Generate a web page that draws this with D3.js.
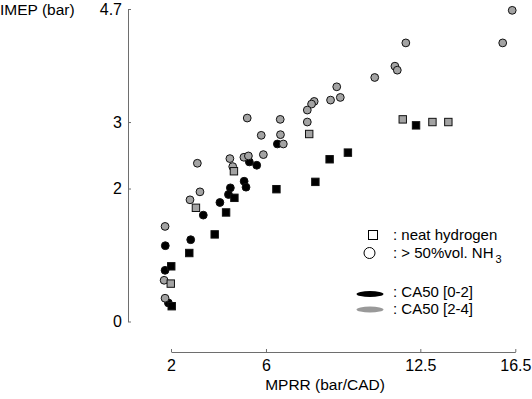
<!DOCTYPE html>
<html>
<head>
<meta charset="utf-8">
<script src="https://cdn.jsdelivr.net/npm/d3@7"></script>
<style>
  body { margin: 0; background: #fff; }
  svg text { font-family: 'Liberation Sans', Arial, sans-serif; fill: #000; }
</style>
</head>
<body>
<div id="chart"></div>
<script>
// MPRR (bar/CAD) vs IMEP (bar)
const xTicks = [2, 6, 12.5, 16.5];
const yTicks = [0, 2, 3, 4.7];

// NH3 (> 50%vol), CA50 [2-4]
const nh3Late = [
  [16.37, 4.68], [15.97, 4.19], [11.89, 4.19], [11.43, 3.84], [11.53, 3.78],
  [10.58, 3.67], [8.98, 3.53], [8.72, 3.33], [9.13, 3.37], [8.03, 3.31],
  [7.92, 3.27], [7.74, 3.18], [5.21, 3.06], [6.60, 3.04], [7.74, 3.00],
  [5.80, 2.80], [6.61, 2.81], [6.73, 2.67], [5.89, 2.51], [3.11, 2.38],
  [4.48, 2.45], [4.60, 2.33], [5.07, 2.47], [5.26, 2.49], [3.22, 1.95],
  [2.80, 1.83], [1.75, 1.43], [1.71, 0.62], [1.75, 0.35]
];
// neat hydrogen, CA50 [2-4]
const h2Late = [
  [7.82, 2.82], [4.65, 2.26], [3.05, 1.71], [1.99, 0.57],
  [11.76, 3.04], [13.01, 3.00], [13.68, 3.00]
];
// NH3 (> 50%vol), CA50 [0-2]
const nh3Early = [
  [6.48, 2.67], [5.30, 2.40], [5.61, 2.35], [5.08, 2.11], [5.16, 2.02],
  [4.50, 2.01], [4.42, 1.91], [4.06, 1.79], [3.36, 1.60], [2.83, 1.23],
  [1.76, 1.14], [1.75, 0.77], [1.89, 0.28]
];
// neat hydrogen, CA50 [0-2]
const h2Early = [
  [12.32, 2.95], [9.45, 2.54], [8.68, 2.44], [8.08, 2.10], [6.44, 1.99],
  [4.67, 1.86], [4.32, 1.64], [3.84, 1.31], [2.77, 1.03], [2.01, 0.83], [2.03, 0.23]
];

const W = 532, H = 399;
const grayFill = '#a3a3a3';
const axisColor = '#6e6e6e';
const fontFamily = "'Liberation Sans', Arial, sans-serif";

const svg = d3.select('#chart').append('svg')
  .attr('width', W)
  .attr('height', H);

const x = d3.scaleLinear().domain([2, 16.5]).range([171, 515.3]);
const y = d3.scaleLinear().domain([0, 4.7]).range([321.5, 9]);

// Y axis
svg.append('g')
  .attr('transform', 'translate(128,0)')
  .call(d3.axisLeft(y).tickValues(yTicks).tickFormat(d => d).tickSizeInner(-3).tickSizeOuter(0).tickPadding(6))
  .call(g => g.select('.domain').attr('stroke', axisColor))
  .call(g => g.selectAll('.tick line').attr('stroke', axisColor))
  .call(g => g.selectAll('.tick text').attr('font-size', 16).attr('font-family', fontFamily));

// X axis
svg.append('g')
  .attr('transform', 'translate(0,352)')
  .call(d3.axisBottom(x).tickValues(xTicks).tickFormat(d => d).tickSizeInner(-3).tickSizeOuter(0).tickPadding(8))
  .call(g => g.select('.domain').attr('stroke', axisColor))
  .call(g => g.selectAll('.tick line').attr('stroke', axisColor))
  .call(g => g.selectAll('.tick text').attr('font-size', 16).attr('font-family', fontFamily));

// Axis titles
svg.append('text')
  .attr('x', 0).attr('y', 15)
  .attr('font-size', 15.5)
  .text('IMEP (bar)');

svg.append('text')
  .attr('x', 325).attr('y', 390)
  .attr('text-anchor', 'middle')
  .attr('font-size', 15.5)
  .text('MPRR (bar/CAD)');

// Markers
const dots = svg.append('g');

const drawCircles = (data, fill) => {
  dots.append('g')
    .selectAll('circle')
    .data(data)
    .join('circle')
    .attr('cx', d => x(d[0]))
    .attr('cy', d => y(d[1]))
    .attr('r', 3.9)
    .attr('fill', fill)
    .attr('stroke', '#111')
    .attr('stroke-width', 1);
};

const drawSquares = (data, fill) => {
  const s = 7.4;
  dots.append('g')
    .selectAll('rect')
    .data(data)
    .join('rect')
    .attr('x', d => x(d[0]) - s / 2)
    .attr('y', d => y(d[1]) - s / 2)
    .attr('width', s)
    .attr('height', s)
    .attr('fill', fill)
    .attr('stroke', '#111')
    .attr('stroke-width', 1);
};

drawCircles(nh3Early, '#000');
drawSquares(h2Early, '#000');
drawCircles(nh3Late, grayFill);
drawSquares(h2Late, grayFill);

// Legend
const legend = svg.append('g').attr('font-size', 15);

legend.append('rect')
  .attr('x', 368.5).attr('y', 230.5)
  .attr('width', 9).attr('height', 9)
  .attr('fill', '#fff').attr('stroke', '#000').attr('stroke-width', 1);
legend.append('text').attr('x', 393).attr('y', 240).text(': neat hydrogen');

legend.append('circle')
  .attr('cx', 369.5).attr('cy', 253)
  .attr('r', 5.5)
  .attr('fill', '#fff').attr('stroke', '#000').attr('stroke-width', 1);
const nhText = legend.append('text').attr('x', 393).attr('y', 258);
nhText.append('tspan').text(': > 50%vol. NH');
nhText.append('tspan').attr('dy', 5).attr('dx', 2).attr('font-size', 11).text('3');

legend.append('ellipse')
  .attr('cx', 370).attr('cy', 294)
  .attr('rx', 13.5).attr('ry', 3)
  .attr('fill', '#000');
legend.append('text').attr('x', 393).attr('y', 297).text(': CA50 [0-2]');

legend.append('ellipse')
  .attr('cx', 370).attr('cy', 309.5)
  .attr('rx', 13.5).attr('ry', 3)
  .attr('fill', '#999');
legend.append('text').attr('x', 393).attr('y', 314).text(': CA50 [2-4]');
</script>
</body>
</html>
